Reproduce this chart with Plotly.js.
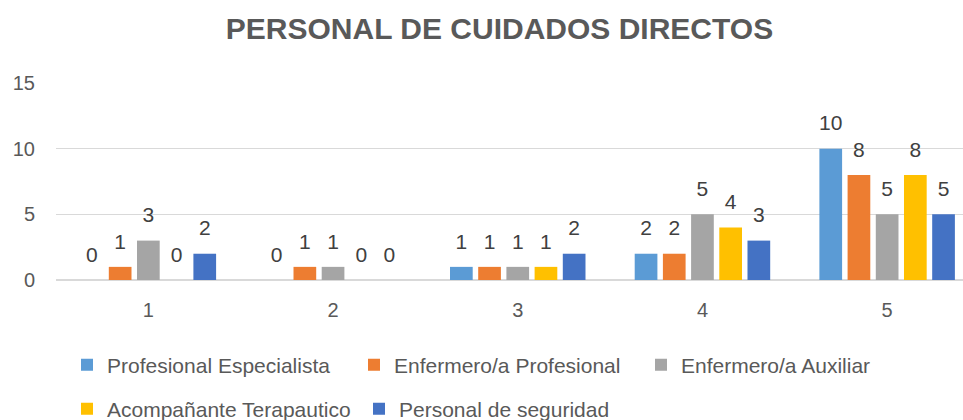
<!DOCTYPE html>
<html>
<head>
<meta charset="utf-8">
<script src="https://cdn.plot.ly/plotly-3.0.1.min.js"></script>
<style>html,body{margin:0;padding:0;background:#fff;}#chart{width:963px;height:420px;}</style>
</head>
<body>
<div id="chart"></div>
<script>
const categories = ['1', '2', '3', '4', '5'];
const seriesNames = ['Profesional Especialista', 'Enfermero/a Profesional', 'Enfermero/a Auxiliar', 'Acompañante Terapautico', 'Personal de seguridad'];
const profesionalEspecialista = [0, 0, 1, 2, 10];
const enfermeroProfesional = [1, 1, 1, 2, 8];
const enfermeroAuxiliar = [3, 1, 1, 5, 5];
const acompananteTerapautico = [0, 0, 1, 4, 8];
const personalSeguridad = [2, 0, 2, 3, 5];
const seriesValues = [profesionalEspecialista, enfermeroProfesional, enfermeroAuxiliar, acompananteTerapautico, personalSeguridad];
const colors = ['#5B9BD5', '#ED7D31', '#A5A5A5', '#FFC000', '#4472C4'];
const legendOf = ['legend', 'legend', 'legend', 'legend2', 'legend2'];

const FONT = 'Liberation Sans, Arial, sans-serif';
const traces = [];
seriesValues.forEach((vals, i) => {
  traces.push({
    type: 'bar', name: seriesNames[i], x: categories, y: vals,
    marker: {color: colors[i]}, legend: legendOf[i], hoverinfo: 'skip'
  });
});
seriesValues.forEach((vals, i) => {
  traces.push({
    type: 'scatter', mode: 'markers+text', x: categories, y: vals,
    text: vals.map(String), textposition: 'top center',
    textfont: {family: FONT, size: 21, color: '#404040'},
    marker: {size: 19.2, opacity: 0, color: colors[i]},
    showlegend: false, hoverinfo: 'skip', cliponaxis: false
  });
});

const layout = {
  width: 963, height: 420,
  margin: {l: 56, r: 0, t: 83, b: 140},
  paper_bgcolor: '#fff', plot_bgcolor: '#fff',
  font: {family: FONT, color: '#595959'},
  title: {text: 'PERSONAL DE CUIDADOS DIRECTOS', font: {family: FONT, size: 30, color: '#595959', weight: 'bold'},
          xref: 'container', x: 499.5 / 963, xanchor: 'center', yref: 'container', y: 1 - 39 / 420, yanchor: 'bottom'},
  barmode: 'group', bargap: 0.2366, bargroupgap: 0.195,
  scattermode: 'group', scattergap: 0.2366,
  xaxis: {type: 'category', range: [-0.5, 4.4107], showgrid: false, zeroline: false, showline: false,
          ticks: '', tickfont: {family: FONT, size: 20, color: '#595959'}, ticklabelstandoff: 16, fixedrange: true},
  yaxis: {range: [0, 15], dtick: 5, showgrid: true, gridcolor: '#D9D9D9', gridwidth: 1.4,
          zeroline: true, zerolinecolor: '#D9D9D9', zerolinewidth: 1.4, showline: false, ticks: '',
          tickfont: {family: FONT, size: 20, color: '#595959'}, ticklabelstandoff: 20, fixedrange: true},
  legend: {orientation: 'h', xref: 'container', yref: 'container', x: 67 / 963, xanchor: 'left', y: 1 - 365 / 420, yanchor: 'middle',
           entrywidth: 242, entrywidthmode: 'pixels', font: {family: FONT, size: 21, color: '#595959'}, bgcolor: 'rgba(0,0,0,0)'},
  legend2: {orientation: 'h', xref: 'container', yref: 'container', x: 67 / 963, xanchor: 'left', y: 1 - 409 / 420, yanchor: 'middle',
           entrywidth: 247, entrywidthmode: 'pixels', font: {family: FONT, size: 21, color: '#595959'}, bgcolor: 'rgba(0,0,0,0)'},
  showlegend: true
};

Plotly.newPlot('chart', traces, layout, {displayModeBar: false, staticPlot: true});
</script>
</body>
</html>
